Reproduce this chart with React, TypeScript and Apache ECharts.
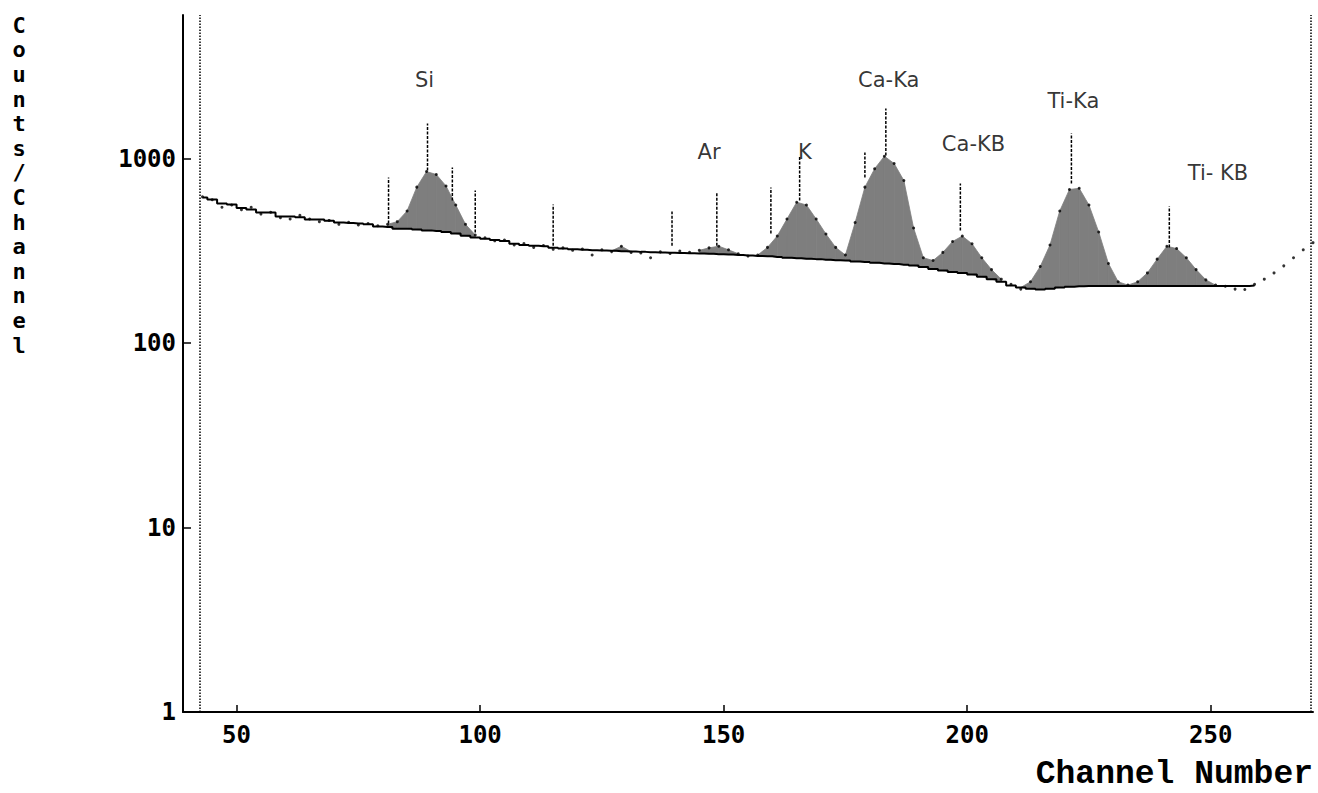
import React, { useEffect, useRef } from "react";
import * as echarts from "echarts";

// Channel grid (every 2nd channel) and counts
const channels = [
  43, 45, 47, 49, 51, 53, 55, 57, 59, 61, 63, 65, 67, 69, 71, 73, 75, 77, 79, 81,
  83, 85, 87, 89, 91, 93, 95, 97, 99, 101, 103, 105, 107, 109, 111, 113, 115, 117, 119, 121,
  123, 125, 127, 129, 131, 133, 135, 137, 139, 141, 143, 145, 147, 149, 151, 153, 155, 157, 159, 161,
  163, 165, 167, 169, 171, 173, 175, 177, 179, 181, 183, 185, 187, 189, 191, 193, 195, 197, 199, 201,
  203, 205, 207, 209, 211, 213, 215, 217, 219, 221, 223, 225, 227, 229, 231, 233, 235, 237, 239, 241,
  243, 245, 247, 249, 251, 253, 255, 257, 259, 261, 263, 265, 267, 269, 271,
];
const counts = [
  620, 598, 545, 560, 528, 545, 500, 512, 478, 470, 492, 470, 455, 462, 440, 452, 436, 445, 432, 440,
  455, 520, 700, 850, 820, 710, 560, 440, 385, 372, 358, 362, 340, 346, 330, 338, 322, 328, 318, 323,
  300, 320, 313, 335, 310, 308, 290, 312, 306, 315, 310, 318, 328, 335, 320, 305, 296, 300, 330, 380,
  470, 580, 560, 470, 390, 330, 300, 450, 700, 880, 1030, 940, 760, 420, 290, 280, 310, 355, 380, 345,
  290, 250, 222, 208, 196, 215, 260, 340, 520, 680, 690, 560, 400, 270, 215, 206, 215, 240, 285, 335,
  325, 290, 250, 220, 206, 203, 196, 195, 208, 222, 240, 262, 290, 320, 350,
];
// Fitted continuum (up to channel 259)
const background = [
  615, 600, 570, 563, 540, 529, 510, 510, 485, 485, 480, 467, 467, 460, 450, 447, 444, 440, 428, 425,
  417, 417, 412, 408, 405, 400, 392, 382, 373, 368, 362, 357, 345, 340, 337, 335, 328, 325, 322, 320,
  318, 317, 316, 314, 313, 312, 311, 310, 309, 308, 307, 306, 305, 303, 302, 300, 298, 296, 295, 293,
  290, 288, 286, 285, 283, 281, 280, 277, 275, 272, 270, 268, 266, 263, 258, 252, 247, 243, 240, 235,
  229, 222, 215, 205, 200, 197, 195, 197, 200, 202, 203, 204, 204, 204, 204, 204, 204, 204, 204, 204,
  204, 204, 204, 204, 204, 204, 204, 204, 205,
];

// Peak marker lines
const markerChannels = [81.2, 89.2, 94.3, 99, 115, 139.4, 148.6, 159.7, 165.6, 179, 183.3, 198.6, 221.4, 241.5];
const markerBottoms = [445, 861, 592, 397, 337, 337, 337, 393, 592, 789, 1038, 407, 732, 330];
const markerTops = [789, 1548, 894, 671, 564, 517, 654, 697, 1038, 1078, 1866, 732, 1366, 549];

// Peak labels
const peakNames = ["Si", "Ar", "K", "Ca-Ka", "Ca-KB", "Ti-Ka", "Ti- KB"];
const peakLabelChannels = [88.6, 147, 166.7, 183.9, 201.3, 221.8, 251.5];
const peakLabelValues = [2650, 1080, 1080, 2650, 1200, 2060, 840];

// Region boundaries (dotted verticals)
const boundaryChannels = [42.5, 270.5];

// Axis ticks
const xTicks = [50, 100, 150, 200, 250];
const yTicks = [1, 10, 100, 1000];
const yTitle = "Counts/Channel";

export default function App() {
  const ref = useRef<HTMLDivElement>(null);

  useEffect(() => {
    if (!ref.current) return;
    const chart = echarts.init(ref.current, null, { renderer: "svg" });

    const countData = channels.map((c, i) => [c, counts[i]]);
    const bgData = background.map((b, i) => [channels[i], b]);
    // segment data: [ch, count, bg, nextCh, nextCount, nextBg]
    const fillData: number[][] = [];
    for (let i = 0; i + 1 < background.length; i++) {
      fillData.push([channels[i], counts[i], background[i], channels[i + 1], counts[i + 1], background[i + 1]]);
    }
    const markerData = markerChannels.map((c, i) => [c, markerBottoms[i], markerTops[i]]);
    const labelData = peakNames.map((n, i) => ({ name: n, value: [peakLabelChannels[i], peakLabelValues[i]] }));

    const monoFont = "DejaVu Sans Mono";

    chart.setOption({
      animation: false,
      backgroundColor: "#ffffff",
      grid: { left: 183, right: 5, top: 15, bottom: 81, containLabel: false },
      xAxis: {
        type: "value",
        min: 39,
        max: 271,
        splitLine: { show: false },
        axisLine: { show: true, lineStyle: { color: "#000", width: 2 } },
        axisTick: { show: true, inside: true, length: 7, customValues: xTicks, lineStyle: { color: "#000", width: 1.5 } },
        axisLabel: {
          customValues: xTicks,
          margin: 11,
          color: "#000",
          fontFamily: monoFont,
          fontWeight: "bold",
          fontSize: 24,
          formatter: (v: number) => String(Math.round(v)),
        },
      },
      yAxis: {
        type: "log",
        logBase: 10,
        min: 1,
        max: 6000,
        splitLine: { show: false },
        axisLine: { show: true, lineStyle: { color: "#000", width: 2 } },
        axisTick: { show: true, inside: true, length: 8, customValues: yTicks, lineStyle: { color: "#000", width: 1.5 } },
        axisLabel: {
          customValues: yTicks,
          margin: 7,
          color: "#000",
          fontFamily: monoFont,
          fontWeight: "bold",
          fontSize: 24,
          formatter: (v: number) => String(Math.round(v)),
        },
      },
      graphic: [
        {
          type: "text",
          x: 19,
          y: 13,
          style: {
            text: yTitle.split("").join("\n"),
            fill: "#000",
            font: `bold 22px "${monoFont}"`,
            lineHeight: 24.6,
            align: "center",
          },
        },
        {
          type: "text",
          right: 5,
          top: 758,
          style: {
            text: "Channel Number",
            fill: "#000",
            font: 'bold 33px "Liberation Mono"',
          },
        },
      ],
      series: [
        {
          type: "custom",
          name: "peaks",
          data: fillData,
          renderItem: (params: any, api: any) => {
            const c0 = api.value(1), b0 = api.value(2), c1 = api.value(4), b1 = api.value(5);
            if (c0 <= b0 * 1.05 && c1 <= b1 * 1.05) return null;
            const t0 = api.coord([api.value(0), Math.max(c0, b0)]);
            const t1 = api.coord([api.value(3), Math.max(c1, b1)]);
            const g0 = api.coord([api.value(0), b0]);
            const g1 = api.coord([api.value(3), b1]);
            return {
              type: "polygon",
              shape: { points: [t0, t1, g1, g0] },
              style: { fill: "#7e7e7e", stroke: "#7e7e7e", lineWidth: 0.8 },
            };
          },
          z: 2,
        },
        {
          type: "line",
          name: "continuum",
          data: bgData,
          step: "middle",
          symbol: "none",
          lineStyle: { color: "#000", width: 2 },
          z: 3,
        },
        {
          type: "scatter",
          name: "counts",
          data: countData,
          symbolSize: 3,
          itemStyle: { color: "#000" },
          z: 4,
        },
        {
          type: "custom",
          name: "markers",
          data: markerData,
          renderItem: (params: any, api: any) => {
            const ch = api.value(0);
            const a = api.coord([ch, api.value(1)]);
            const b = api.coord([ch, api.value(2)]);
            return {
              type: "line",
              shape: { x1: a[0], y1: a[1], x2: b[0], y2: b[1] },
              style: { stroke: "#000", lineWidth: 1.5, lineDash: [3, 1.5] },
            };
          },
          markLine: {
            silent: true,
            symbol: "none",
            label: { show: false },
            lineStyle: { color: "#000", width: 1.5, type: "dotted" },
            data: boundaryChannels.map((c) => ({ xAxis: c })),
          },
          z: 5,
        },
        {
          type: "scatter",
          name: "labels",
          data: labelData,
          symbolSize: 1,
          itemStyle: { color: "rgba(0,0,0,0)" },
          label: {
            show: true,
            position: "inside",
            formatter: "{b}",
            color: "#000",
            fontFamily: "DejaVu Sans",
            fontSize: 21,
          },
          z: 6,
        },
      ],
    });

    return () => chart.dispose();
  }, []);

  return (
    <div
      ref={ref}
      style={{ position: "absolute", left: 0, top: 0, width: 1318, height: 793, background: "#fff" }}
    />
  );
}
